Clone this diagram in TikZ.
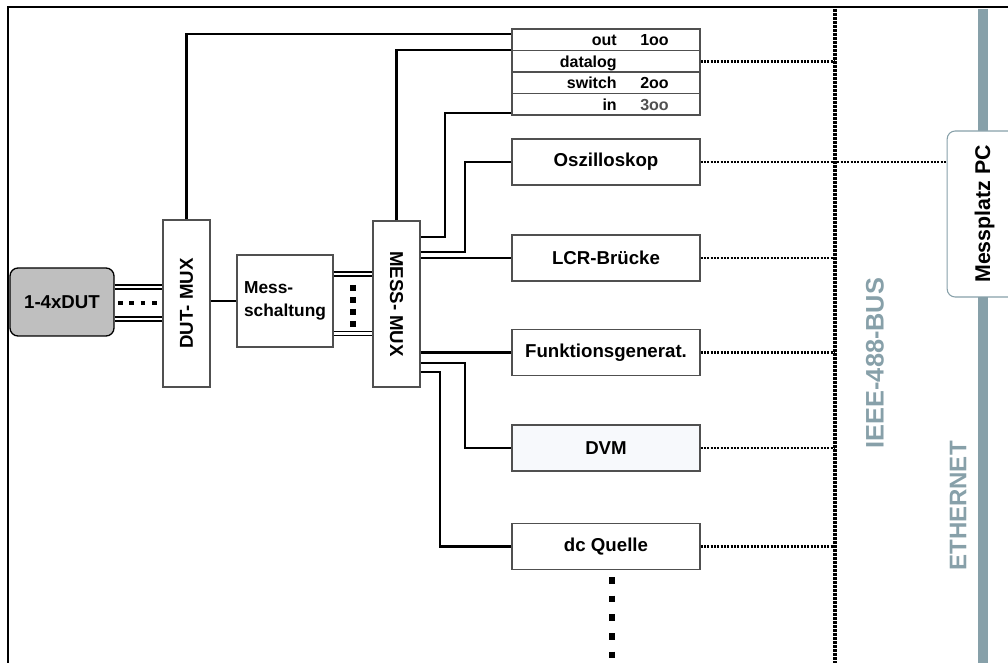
\documentclass[tikz,border=0pt]{standalone}
\usepackage{fontspec}
\setmainfont{Liberation Sans}
\usepackage{tikz}
\definecolor{busgray}{HTML}{87A0A9}
\definecolor{boxgray}{HTML}{505050}
\definecolor{dvmfill}{HTML}{F7F9FC}

\begin{document}
\begin{tikzpicture}[x=0.75pt,y=-0.75pt,
  box/.style={rectangle,draw=boxgray,line width=0.9pt,fill=white,inner sep=0pt,font=\fontsize{14}{16}\selectfont\bfseries},
  instr/.style={box,minimum width=141pt,minimum height=34.5pt},
  tabrow/.style={box,minimum width=141pt,minimum height=16.1pt},
  tabtxt/.style={inner sep=0pt,font=\fontsize{12}{14}\selectfont\bfseries},
  wire/.style={line width=1.6pt},
  twin/.style={double,double distance=2.2pt,line width=0.8pt},
  gpib/.style={line width=2.2pt,dash pattern=on 1.5pt off 1pt},
  buslbl/.style={busgray,inner sep=0pt,font=\fontsize{18}{18}\selectfont\bfseries}]
\useasboundingbox (0,0) rectangle (1008,663);

% frame
\draw[line width=1.5pt] (8,663) -- (8,7) -- (1008,7);

% ethernet
\draw[busgray,line width=7.5pt] (983,9) -- (983,663);
\node[buslbl] (ethlbl) at (958,506) {\rotatebox{90}{ETHERNET}};
\node[rectangle,rounded corners=6pt,draw=busgray,line width=0.8pt,fill=white,minimum width=56pt,minimum height=124.5pt,inner sep=0pt,font=\fontsize{16}{16}\selectfont\bfseries] (pc) at (984.5,214) {\rotatebox{90}{Messplatz PC}};

% IEEE bus
\coordinate (bustop) at (835,9);
\coordinate (busbot) at (835,663);
\draw[line width=3.5pt,dash pattern=on 2pt off 1pt] (bustop) -- (busbot);
\node[buslbl,font=\fontsize{19}{19}\selectfont\bfseries] (ieeelbl) at (875,363) {\rotatebox{90}{IEEE-488-BUS}};

% DUT side
\node[rectangle,rounded corners=6pt,draw,line width=1pt,fill=gray!50,minimum width=78pt,minimum height=51pt,inner sep=0pt,font=\fontsize{14}{16}\selectfont\bfseries] (dut) at (62,302) {1-4xDUT};
\node[box,minimum width=35.25pt,minimum height=125.25pt] (dmux) at (186.5,303.5) {\rotatebox{90}{DUT- MUX}};
\node[box,minimum width=72pt,minimum height=69pt,align=left,font=\fontsize{13}{17}\selectfont\bfseries] (mess) at (285,301) {Mess-\\schaltung};
\node[box,minimum width=35.25pt,minimum height=124.5pt] (mmux) at (396.5,304) {\rotatebox{-90}{MESS- MUX}};

% switch table
\node[tabrow] (rout) at (606,39.75) {};
\node[tabrow] (rdata) at (606,61.25) {};
\node[tabrow] (rswitch) at (606,82.75) {};
\node[tabrow] (rin) at (606,104.25) {};
\node[tabtxt,anchor=base east] (tout) at (617,45.75) {out};
\node[tabtxt,anchor=base west] (vout) at (640,45.75) {1oo};
\node[tabtxt,anchor=base east] (tdata) at (617,67.25) {datalog};
\node[tabtxt,anchor=base east] (tswitch) at (617,88.75) {switch};
\node[tabtxt,anchor=base west] (vswitch) at (640,88.75) {2oo};
\node[tabtxt,anchor=base east] (tin) at (617,110.25) {in};
\node[tabtxt,anchor=base west,text=boxgray] (vin) at (640,110.25) {3oo};

% instruments
\node[instr] (osz) at (606,162) {Oszilloskop};
\node[instr] (lcr) at (606,258) {LCR-Brücke};
\node[instr] (fgen) at (606,352.5) {Funktionsgenerat.};
\node[instr,fill=dvmfill] (dvm) at (606,448) {DVM};
\node[instr] (dcq) at (606,546.5) {dc Quelle};

% wiring
\draw[twin] (dut.east |- 0,287) -- (dmux.west |- 0,287);
\draw[twin] (dut.east |- 0,319) -- (dmux.west |- 0,319);
\draw[line width=3.5pt,dash pattern=on 3.5pt off 5pt] (118,303) -- (158,303);
\draw[wire] (dmux.east |- mess.west) -- (mess.west);
\draw[twin] (mess.east |- 0,274) -- (mmux.west |- 0,274);
\draw[twin] (mess.east |- 0,333.5) -- (mmux.west |- 0,333.5);
\draw[line width=4.5pt,dash pattern=on 4.5pt off 4.5pt] (353,285) -- (353,327);

\draw[wire] (dmux.north) |- (rout.west |- 0,34);
\draw[wire] (mmux.north) |- (rdata.north west);
\draw[wire] (rin.west |- 0,113) -- ++(-66,0) |- (mmux.east |- 0,237);
\draw[wire] (osz.west) -- ++(-46,0) |- (mmux.east |- 0,252);
\draw[wire] (mmux.east |- lcr.west) -- (lcr.west);
\draw[wire] (mmux.east |- fgen.west) -- (fgen.west);
\draw[wire] (mmux.east |- 0,363) -| ([xshift=-34.5pt]dvm.west) -- (dvm.west);
\draw[wire] (mmux.east |- 0,372) -| ([xshift=-53.25pt]dcq.west) -- (dcq.west);
\draw[line width=5pt,dash pattern=on 5pt off 9pt] (612,577) -- (612,659);

% bus links
\draw[gpib] (rdata.east) -- (rdata.east -| bustop);
\draw[gpib] (osz.east) -- (pc.west |- osz.east);
\draw[gpib] (lcr.east) -- (lcr.east -| bustop);
\draw[gpib] (fgen.east) -- (fgen.east -| bustop);
\draw[gpib] (dvm.east) -- (dvm.east -| bustop);
\draw[gpib] (dcq.east) -- (dcq.east -| bustop);
\end{tikzpicture}
\end{document}
